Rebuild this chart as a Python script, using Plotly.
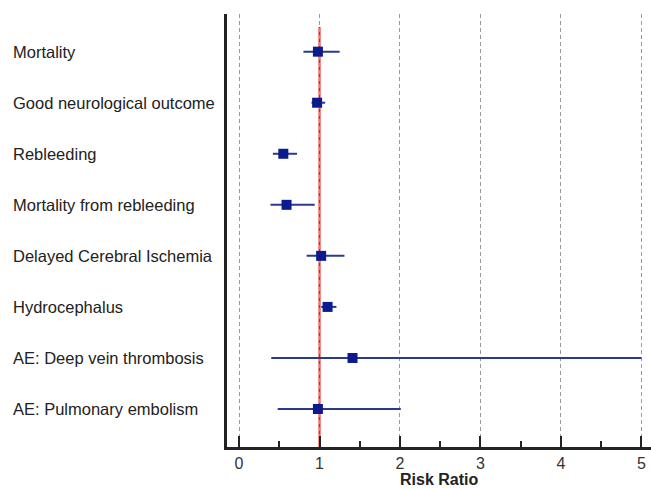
import plotly.graph_objects as go

outcomes = ["Mortality", "Good neurological outcome", "Rebleeding", "Mortality from rebleeding",
            "Delayed Cerebral Ischemia", "Hydrocephalus", "AE: Deep vein thrombosis",
            "AE: Pulmonary embolism"]
risk_ratio = [0.98, 0.97, 0.55, 0.59, 1.02, 1.10, 1.41, 0.98]
ci_low = [0.80, 0.90, 0.42, 0.39, 0.84, 1.02, 0.40, 0.48]
ci_high = [1.25, 1.07, 0.72, 0.94, 1.31, 1.21, 5.00, 2.01]
x_ticks = [0, 1, 2, 3, 4, 5]

rows = list(range(len(outcomes)))
err_plus = [h - r for h, r in zip(ci_high, risk_ratio)]
err_minus = [r - l for r, l in zip(risk_ratio, ci_low)]

navy = "#0b1a8c"
fig = go.Figure()
fig.add_trace(go.Scatter(
    x=risk_ratio, y=rows, mode="markers",
    marker=dict(symbol="square", size=10, color=navy),
    error_x=dict(type="data", symmetric=False, array=err_plus, arrayminus=err_minus,
                 color="#2b3a90", thickness=2, width=0),
    showlegend=False, cliponaxis=False,
))

# line of no effect
fig.add_shape(type="line", xref="x", yref="paper", x0=1, x1=1, y0=0, y1=0.97,
              line=dict(color="#e0201c", width=2), layer="below")

for name, r in zip(outcomes, rows):
    fig.add_annotation(text=name, xref="paper", yref="y", x=-0.51, y=r,
                       xanchor="left", yanchor="middle", showarrow=False,
                       font=dict(size=16.5, color="#222", family="Liberation Sans, Arial"))

fig.add_annotation(text="<b>Risk Ratio</b>", xref="paper", yref="paper", x=0.5, y=-0.076,
                   xanchor="center", yanchor="middle", showarrow=False,
                   font=dict(size=16, color="#222", family="Liberation Sans, Arial"))

fig.update_layout(
    width=651, height=489,
    margin=dict(l=227, r=0, t=14, b=42),
    paper_bgcolor="white", plot_bgcolor="white",
    font=dict(family="Liberation Sans, Arial", color="#222"),
    xaxis=dict(range=[-0.15, 5.12], tickvals=x_ticks, ticktext=[str(t) for t in x_ticks],
               automargin=False,
               showgrid=True, gridcolor="#9a9a9a", griddash="4px,3px", gridwidth=1,
               zeroline=False, showline=True, linecolor="#222", linewidth=2.5,
               ticks="inside", ticklen=11, tickwidth=2, tickcolor="#222",
               tickfont=dict(size=16, color="#333"),
               minor=dict(dtick=0.5, tick0=0, ticks="inside", ticklen=6, tickwidth=1.5,
                          tickcolor="#222", showgrid=False)),
    yaxis=dict(range=[7.744, -0.738], showticklabels=False, showgrid=False, zeroline=False,
               automargin=False,
               showline=True, linecolor="#222", linewidth=2.5, ticks=""),
)

fig.write_html("out.html", config={"displayModeBar": False},
               post_script="document.body.style.margin='0';document.body.style.overflow='hidden';")
